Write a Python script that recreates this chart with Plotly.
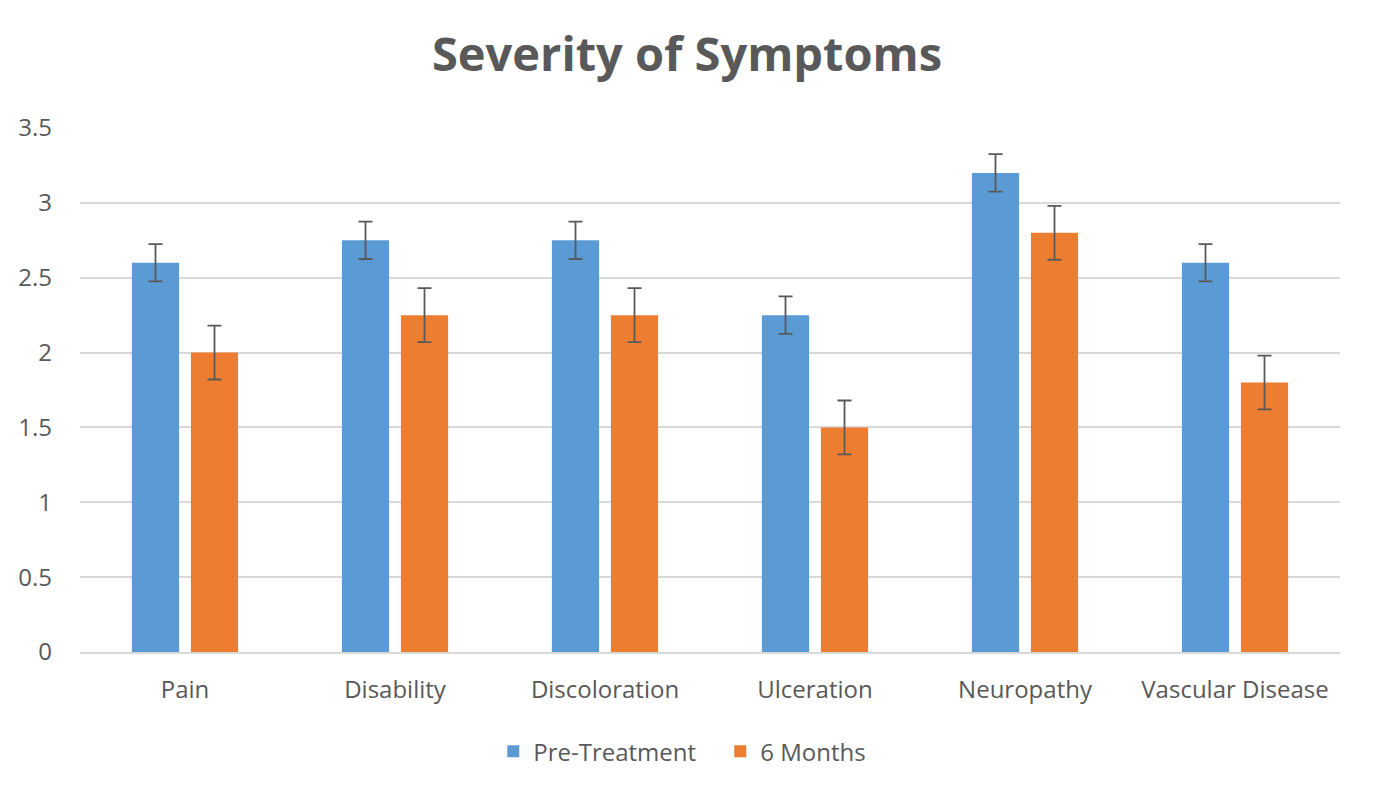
import plotly.graph_objects as go

categories = ["Pain", "Disability", "Discoloration", "Ulceration", "Neuropathy", "Vascular Disease"]
pre_treatment = [2.6, 2.75, 2.75, 2.25, 3.2, 2.6]
pre_err = [0.125, 0.125, 0.125, 0.125, 0.125, 0.125]
six_months = [2.0, 2.25, 2.25, 1.5, 2.8, 1.8]
six_err = [0.18, 0.18, 0.18, 0.18, 0.18, 0.18]
y_ticks = [0, 0.5, 1, 1.5, 2, 2.5, 3, 3.5]
y_tick_labels = ["0", "0.5", "1", "1.5", "2", "2.5", "3", "3.5"]

err_color = "#595959"
font_fam = "Open Sans, Noto Sans, sans-serif"

fig = go.Figure()
fig.add_trace(go.Bar(
    name="Pre-Treatment", x=categories, y=pre_treatment,
    marker=dict(color="#5B9BD5", line=dict(width=0)),
    error_y=dict(type="data", array=pre_err, visible=True, color=err_color, thickness=1.8, width=7),
))
fig.add_trace(go.Bar(
    name="6 Months", x=categories, y=six_months,
    marker=dict(color="#ED7D31", line=dict(width=0)),
    error_y=dict(type="data", array=six_err, visible=True, color=err_color, thickness=1.8, width=7),
))

fig.update_layout(
    width=1374, height=798,
    paper_bgcolor="white", plot_bgcolor="white",
    barmode="group", bargap=0.438, bargroupgap=0.2,
    margin=dict(l=80, r=34, t=128, b=146),
    title=dict(text="<b>Severity of Symptoms</b>", x=0.5, xanchor="center", y=0.932, yanchor="middle",
               font=dict(family=font_fam, size=47, color="#595959")),
    font=dict(family=font_fam, size=24, color="#595959"),
    legend=dict(orientation="h", x=0.328, xanchor="left", y=-0.19, yanchor="middle",
                font=dict(size=24, color="#595959"), itemwidth=30, tracegroupgap=0,
                entrywidth=182, entrywidthmode="pixels"),
    showlegend=True,
)
fig.update_xaxes(showline=True, linecolor="#D9D9D9", linewidth=2, ticks="", tickfont=dict(size=24, color="#595959"),
                 ticklabelstandoff=15)
fig.update_yaxes(range=[0, 3.5], tickvals=y_ticks, ticktext=y_tick_labels, showgrid=True, gridcolor="#D9D9D9",
                 gridwidth=1.5, zeroline=False, ticks="", tickfont=dict(size=24, color="#595959"), ticklabelstandoff=27)

fig.write_html("out.html")
